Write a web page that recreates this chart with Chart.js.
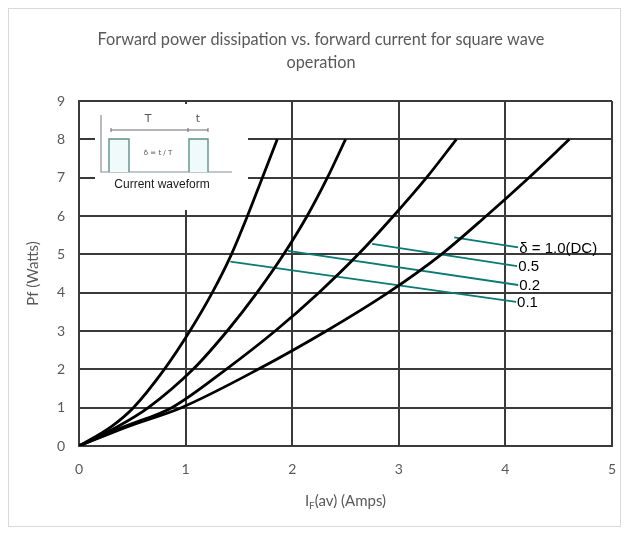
<!DOCTYPE html>
<html>
<head>
<meta charset="utf-8">
<script src="https://cdn.jsdelivr.net/npm/chart.js@4.4.0/dist/chart.umd.min.js"></script>
<style>
  html, body { margin: 0; padding: 0; background: #fff; }
  #wrap { width: 625px; height: 542px; }
</style>
</head>
<body>
<div id="wrap"><canvas id="chart" width="625" height="542"></canvas></div>
<script>
const powerLevels = [0, 0.5, 1, 2, 3, 4, 5, 6, 7, 8];
const currentDuty01 = [0, 0.30, 0.51, 0.80, 1.04, 1.25, 1.43, 1.58, 1.72, 1.86];
const currentDuty02 = [0, 0.36, 0.65, 1.07, 1.39, 1.67, 1.92, 2.14, 2.33, 2.50];
const currentDuty05 = [0, 0.42, 0.87, 1.38, 1.84, 2.25, 2.62, 2.95, 3.26, 3.54];
const currentDutyDC = [0, 0.45, 0.96, 1.68, 2.32, 2.90, 3.40, 3.82, 4.22, 4.60];

const xTicks = [0, 1, 2, 3, 4, 5];
const yTicks = [0, 1, 2, 3, 4, 5, 6, 7, 8, 9];

// leader lines from each curve to its label
const leaderLabels = ["δ = 1.0(DC)", "0.5", "0.2", "0.1"];
const leaderFromX = [3.52, 2.75, 1.96, 1.42];
const leaderFromY = [5.44, 5.27, 5.09, 4.81];
const leaderToX = [4.12, 4.11, 4.12, 4.10];
const leaderToY = [5.18, 4.69, 4.20, 3.76];

const titleLines = ["Forward power dissipation vs. forward current for square wave", "operation"];

const GRAY = "#595959";
const TEAL = "#0a7a74";

const toPoints = (xs, ys) => xs.map((x, i) => ({ x: x, y: ys[i] }));

const curveStyle = {
  showLine: true,
  borderColor: "#000",
  borderWidth: 2.8,
  pointRadius: 0,
  cubicInterpolationMode: "monotone",
  fill: false,
};

const datasets = [
  { label: "0.1", data: toPoints(currentDuty01, powerLevels), ...curveStyle },
  { label: "0.2", data: toPoints(currentDuty02, powerLevels), ...curveStyle },
  { label: "0.5", data: toPoints(currentDuty05, powerLevels), ...curveStyle },
  { label: "DC", data: toPoints(currentDutyDC, powerLevels), ...curveStyle },
];

leaderLabels.forEach((name, i) => {
  datasets.push({
    label: "leader " + name,
    data: [
      { x: leaderFromX[i], y: leaderFromY[i] },
      { x: leaderToX[i], y: leaderToY[i] },
    ],
    showLine: true,
    borderColor: TEAL,
    borderWidth: 1.8,
    pointRadius: 0,
    tension: 0,
  });
});

// small "current waveform" picture in the upper left of the plot
const waveformInset = {
  id: "waveformInset",
  beforeDatasetsDraw(chart) {
    const { ctx, scales } = chart;
    const left = Math.round(scales.x.getPixelForValue(0.15));
    const top = Math.round(scales.y.getPixelForValue(8.92));
    const right = Math.round(scales.x.getPixelForValue(1.585));
    const bottom = Math.round(scales.y.getPixelForValue(6.16));
    ctx.save();
    ctx.fillStyle = "#fff";
    ctx.fillRect(left, top, right - left, bottom - top);
    ctx.translate(left, top);

    // axes of the sketch
    ctx.strokeStyle = "#8a8f94";
    ctx.lineWidth = 1.2;
    ctx.beginPath();
    ctx.moveTo(6, 11);
    ctx.lineTo(6, 68);
    ctx.lineTo(137, 68);
    ctx.stroke();

    // pulses
    ctx.fillStyle = "#f1fafa";
    ctx.strokeStyle = "#5f8f8c";
    ctx.lineWidth = 1.4;
    [[14, 34], [94, 113]].forEach(([a, b]) => {
      ctx.fillRect(a, 35, b - a, 33);
      ctx.beginPath();
      ctx.moveTo(a, 68);
      ctx.lineTo(a, 35);
      ctx.lineTo(b, 35);
      ctx.lineTo(b, 68);
      ctx.stroke();
    });

    // dimension line
    ctx.strokeStyle = "#6a6a6a";
    ctx.lineWidth = 1;
    ctx.beginPath();
    ctx.moveTo(16, 26);
    ctx.lineTo(113, 26);
    [16, 93, 113].forEach((x) => {
      ctx.moveTo(x, 24);
      ctx.lineTo(x, 28);
    });
    ctx.stroke();

    ctx.fillStyle = "#555";
    ctx.textAlign = "center";
    ctx.textBaseline = "middle";
    ctx.font = "11px 'DejaVu Sans'";
    ctx.fillText("T", 53, 15);
    ctx.fillText("t", 103, 15);
    ctx.font = "7px 'DejaVu Sans'";
    ctx.fillText("δ = t / T", 63, 49);

    ctx.fillStyle = "#1a1a1a";
    ctx.font = "12px 'Liberation Sans'";
    ctx.fillText("Current waveform", 67, 81);
    ctx.restore();
  },
};

// title, labels at the end of leaders, x title with subscript, outer frame
const extras = {
  id: "extras",
  afterDraw(chart) {
    const { ctx, scales, chartArea } = chart;
    ctx.save();

    ctx.fillStyle = GRAY;
    ctx.font = "16.3px Lato";
    ctx.textAlign = "center";
    ctx.textBaseline = "middle";
    titleLines.forEach((line, i) => ctx.fillText(line, 321, 40 + i * 23));

    ctx.fillStyle = "#000";
    ctx.font = "15px 'Liberation Sans'";
    ctx.textAlign = "left";
    leaderLabels.forEach((name, i) => {
      const px = scales.x.getPixelForValue(leaderToX[i]);
      const py = scales.y.getPixelForValue(leaderToY[i]);
      ctx.fillText(name, px + 1, py + 1);
    });

    // I_F(av) (Amps)
    ctx.fillStyle = GRAY;
    ctx.textBaseline = "alphabetic";
    const big = "15px Lato";
    const small = "10px Lato";
    ctx.font = big;
    const w1 = ctx.measureText("I").width;
    const w3 = ctx.measureText("(av) (Amps)").width;
    ctx.font = small;
    const w2 = ctx.measureText("F").width;
    let x = (chartArea.left + chartArea.right) / 2 - (w1 + w2 + w3) / 2;
    const y = 506;
    ctx.font = big;
    ctx.fillText("I", x, y);
    x += w1;
    ctx.font = small;
    ctx.fillText("F", x, y + 3);
    x += w2;
    ctx.font = big;
    ctx.fillText("(av) (Amps)", x, y);

    ctx.strokeStyle = "#d9d9d9";
    ctx.lineWidth = 1;
    ctx.strokeRect(8.5, 8.5, 612, 518);
    ctx.restore();
  },
};

new Chart(document.getElementById("chart"), {
  type: "scatter",
  data: { datasets: datasets },
  options: {
    responsive: false,
    animation: false,
    layout: { padding: { left: 10, right: 13, top: 101, bottom: 0 } },
    scales: {
      x: {
        type: "linear",
        min: xTicks[0],
        max: xTicks[xTicks.length - 1],
        afterBuildTicks: (scale) => {
          scale.ticks = xTicks.map((v) => ({ value: v }));
        },
        afterFit: (scale) => {
          scale.height = 96;
          scale.paddingLeft = 0;
          scale.paddingRight = 0;
        },
        grid: { color: "#3a3a3a", lineWidth: 2, drawTicks: false },
        border: { color: "#3a3a3a", width: 2 },
        ticks: { color: GRAY, padding: 15, font: { family: "Lato", size: 14 } },
        title: { display: false },
      },
      y: {
        type: "linear",
        min: yTicks[0],
        max: yTicks[yTicks.length - 1],
        afterBuildTicks: (scale) => {
          scale.ticks = yTicks.map((v) => ({ value: v }));
        },
        afterFit: (scale) => {
          scale.width = 69;
        },
        grid: { color: "#3a3a3a", lineWidth: 2, drawTicks: false },
        border: { color: "#3a3a3a", width: 2 },
        ticks: { color: GRAY, padding: 14, font: { family: "Lato", size: 14 } },
        title: {
          display: true,
          text: "Pf (Watts)",
          color: GRAY,
          font: { family: "Lato", size: 15 },
          padding: { top: 14, bottom: 0 },
        },
      },
    },
    plugins: {
      legend: { display: false },
      tooltip: { enabled: false },
      title: { display: false },
    },
  },
  plugins: [waveformInset, extras],
});
</script>
</body>
</html>
